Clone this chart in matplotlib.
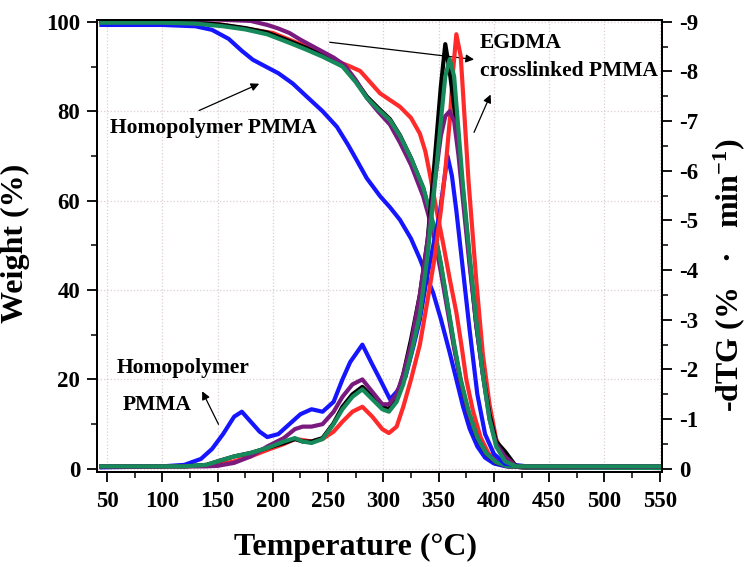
import matplotlib
matplotlib.use("Agg")
import matplotlib.pyplot as plt
from matplotlib.ticker import MultipleLocator

plt.rcParams['font.family'] = ['Liberation Serif', 'DejaVu Serif']
plt.rcParams['font.weight'] = 'bold'
plt.rcParams['mathtext.fontset'] = 'custom'
plt.rcParams['mathtext.rm'] = 'Liberation Serif:bold'
plt.rcParams['mathtext.bf'] = 'Liberation Serif:bold'
plt.rcParams['mathtext.default'] = 'bf'

# TG curves (weight %)
t_blue = [45, 100, 130, 145, 160, 172, 182, 195, 205, 218, 231, 245, 258, 268, 276, 285, 297, 306,
          315, 325, 333, 340, 345, 352, 360, 366, 372, 378, 385, 392, 400, 410, 430, 550]
w_blue = [99.3, 99.3, 99.0, 98.2, 96.2, 93.5, 91.5, 89.8, 88.5, 86.2, 83.2, 80.0, 76.5, 72.5, 69.0, 65.0,
          61.0, 58.5, 55.7, 51.5, 47.0, 42.5, 39.4, 33.5, 26.0, 20.0, 14.0, 9.0, 5.0, 2.5, 1.2, 0.6, 0.3, 0.2]

t_x = [45, 100, 130, 155, 175, 195, 215, 230, 245, 263, 275, 285, 295, 306, 315, 325, 336, 345, 352,
       358, 364, 370, 377, 385, 393, 402, 412, 430, 550]
w_green = [99.8, 99.8, 99.6, 99.0, 98.3, 97.2, 95.3, 93.8, 92.2, 90.0, 86.5, 83.0, 80.5, 78.0, 74.5,
           69.5, 63.0, 55.0, 46.0, 37.0, 28.0, 20.0, 13.0, 7.0, 3.5, 1.5, 0.6, 0.3, 0.2]
w_black = [100.1, 100.1, 99.9, 99.3, 98.6, 97.6, 95.7, 94.2, 92.6, 90.3, 86.8, 83.3, 80.8, 78.2, 74.6,
           69.5, 62.8, 54.5, 45.5, 36.5, 27.5, 19.5, 12.5, 6.8, 3.4, 1.4, 0.6, 0.3, 0.2]

t_purple = [45, 100, 150, 180, 195, 205, 215, 225, 240, 255, 265, 275, 285, 295, 306, 315, 325, 336,
            345, 352, 358, 364, 370, 377, 385, 393, 402, 412, 430, 550]
w_purple = [100.5, 100.6, 100.5, 100.2, 99.3, 98.5, 97.5, 96.0, 94.0, 92.0, 90.3, 87.0, 83.0, 80.0,
            77.0, 73.0, 68.0, 61.0, 53.0, 44.0, 35.5, 27.0, 19.5, 12.5, 7.0, 3.5, 1.5, 0.6, 0.3, 0.2]

t_red = [45, 100, 150, 200, 230, 260, 270, 279, 288, 297, 306, 315, 325, 333, 338, 342, 348, 354,
         360, 366, 371, 375, 381, 388, 395, 403, 412, 430, 550]
w_red = [100.0, 100.0, 99.5, 97.5, 94.5, 91.0, 90.0, 89.0, 86.5, 84.0, 82.5, 81.0, 78.5, 75.0, 71.0,
         66.0, 58.0, 50.5, 42.5, 35.0, 27.0, 20.0, 13.0, 7.0, 3.5, 1.5, 0.6, 0.3, 0.2]

# dTG curves (% / min), plotted as negative values on the right axis
d_t_blue = [45, 100, 120, 135, 145, 155, 165, 172, 180, 188, 195, 205, 215, 225, 235, 245, 255, 263,
            270, 281, 290, 297, 306, 312, 320, 327, 333, 339, 346, 351, 358, 362, 366, 372, 378, 385,
            392, 400, 410, 430, 550]
d_blue = [0.03, 0.05, 0.08, 0.2, 0.4, 0.7, 1.05, 1.15, 0.95, 0.75, 0.64, 0.7, 0.9, 1.1, 1.2, 1.15,
          1.35, 1.8, 2.15, 2.5, 2.1, 1.8, 1.4, 1.55, 1.85, 2.45, 3.0, 3.8, 4.6, 5.15, 6.3, 5.9, 5.2,
          4.0, 2.8, 1.5, 0.7, 0.3, 0.1, 0.05, 0.05]

d_t = [45, 120, 140, 150, 165, 180, 195, 210, 220, 227, 235, 245, 255, 263, 272, 281, 290, 299, 305,
       312, 318, 325, 333, 340, 346, 352, 356, 360, 364, 368, 372, 378, 384, 390, 396, 402, 410, 420, 550]
d_green = [0.05, 0.05, 0.08, 0.15, 0.25, 0.32, 0.42, 0.55, 0.62, 0.55, 0.52, 0.6, 0.9, 1.2, 1.45, 1.6,
           1.4, 1.2, 1.15, 1.35, 1.7, 2.3, 3.1, 4.3, 5.6, 7.0, 7.9, 8.25, 7.9, 6.8, 5.7, 4.3, 3.0, 1.9,
           1.0, 0.45, 0.15, 0.05, 0.05]
d_black = [0.05, 0.05, 0.08, 0.15, 0.25, 0.32, 0.42, 0.52, 0.6, 0.55, 0.55, 0.62, 0.92, 1.25, 1.5,
           1.65, 1.45, 1.25, 1.2, 1.45, 1.9, 2.6, 3.5, 4.6, 6.1, 7.7, 8.55, 8.0, 7.3, 6.5, 5.6, 4.2,
           2.9, 1.9, 1.1, 0.55, 0.35, 0.05, 0.05]
d_purple = [0.05, 0.05, 0.05, 0.06, 0.12, 0.25, 0.45, 0.62, 0.8, 0.85, 0.85, 0.9, 1.15, 1.45, 1.7,
            1.8, 1.55, 1.3, 1.3, 1.5, 1.9, 2.5, 3.5, 4.6, 5.7, 6.7, 7.1, 7.2, 7.0, 6.3, 5.4, 4.1, 2.9,
            1.9, 1.0, 0.5, 0.25, 0.05, 0.05]
d_t_red = [45, 120, 140, 150, 165, 180, 195, 210, 220, 227, 235, 245, 255, 263, 272, 281, 290, 299,
           305, 312, 318, 325, 333, 340, 346, 352, 356, 360, 363, 366, 370, 377, 384, 390, 396, 402,
           410, 420, 550]
d_red = [0.05, 0.05, 0.06, 0.08, 0.15, 0.25, 0.38, 0.5, 0.6, 0.58, 0.55, 0.6, 0.75, 0.95, 1.15, 1.25,
         1.05, 0.8, 0.72, 0.85, 1.25, 1.8, 2.5, 3.4, 4.2, 5.2, 6.0, 7.0, 8.0, 8.75, 8.3, 5.8, 3.8, 2.3,
         1.3, 0.6, 0.2, 0.05, 0.05]

c_blue = '#1515ff'
c_red = '#ff2a2a'
c_black = '#000000'
c_purple = '#7a1a7e'
c_green = '#178a5c'
lw = 3.0

fig = plt.figure(figsize=(7.48, 5.67), dpi=100)
ax = fig.add_axes([0.1297, 0.1676, 0.7553, 0.7971])
ax2 = ax.twinx()

ax.plot(t_blue, w_blue, color=c_blue, lw=lw)
ax.plot(t_red, w_red, color=c_red, lw=lw)
ax.plot(t_x, w_black, color=c_black, lw=lw)
ax.plot(t_purple, w_purple, color=c_purple, lw=lw)
ax.plot(t_x, w_green, color=c_green, lw=lw)

ax2.plot(d_t_blue, [-v for v in d_blue], color=c_blue, lw=lw)
ax2.plot(d_t_red, [-v for v in d_red], color=c_red, lw=lw)
ax2.plot(d_t, [-v for v in d_black], color=c_black, lw=lw)
ax2.plot(d_t, [-v for v in d_purple], color=c_purple, lw=lw)
ax2.plot(d_t, [-v for v in d_green], color=c_green, lw=lw)

ax.set_xlim(41, 552)
ax.set_ylim(-0.7, 100.4)
ax2.set_ylim(0.063, -9.036)

ax.xaxis.set_major_locator(MultipleLocator(50))
ax.xaxis.set_minor_locator(MultipleLocator(25))
ax.yaxis.set_major_locator(MultipleLocator(20))
ax.yaxis.set_minor_locator(MultipleLocator(10))
ax2.yaxis.set_major_locator(MultipleLocator(1))
ax2.yaxis.set_minor_locator(MultipleLocator(0.5))

ax.grid(True, which='major', color='#dccfcf', linestyle=':', linewidth=0.9)
ax.set_axisbelow(True)

for a in (ax, ax2):
    a.tick_params(which='major', length=7, width=1.3, labelsize=16.5, direction='out', pad=5)
    a.tick_params(which='minor', length=4, width=1.1, direction='out')
    for s in a.spines.values():
        s.set_linewidth(1.4)
ax.tick_params(axis='x', pad=7)
ax2.set_yticks(range(0, -10, -1))
ax2.set_yticklabels([str(v) for v in range(0, -10, -1)])

ax.set_xlabel('Temperature (°C)', fontsize=23, fontweight='bold')
ax.xaxis.set_label_coords(0.457, -0.135)
ax.set_ylabel('Weight (%)', fontsize=23, fontweight='bold')
ax.yaxis.set_label_coords(-0.118, 0.505)
ax2.set_ylabel('-dTG (%   \u00b7   min$^{-1}$)', fontsize=23, fontweight='bold')
ax2.yaxis.set_label_coords(1.087, 0.435)

arrow = dict(arrowstyle='-|>', color='black', lw=0.9, mutation_scale=12)
ax.annotate('', xy=(190, 86.4), xytext=(131, 79.9), arrowprops=arrow)
ax.text(53, 76.3, 'Homopolymer PMMA', fontsize=15.5, fontweight='bold', va='center')
ax.annotate('', xy=(384.5, 91.5), xytext=(249, 95.5), arrowprops=arrow)
ax.annotate('', xy=(398, 84.3), xytext=(381, 74.7), arrowprops=arrow)
ax.text(387, 95.3, 'EGDMA', fontsize=15.5, fontweight='bold', va='center')
ax.text(387, 88.9, 'crosslinked PMMA', fontsize=15.5, fontweight='bold', va='center')
ax.annotate('', xy=(135, 17.9), xytext=(152, 9.4), arrowprops=arrow)
ax.text(59, 22.6, 'Homopolymer', fontsize=15.5, fontweight='bold', va='center')
ax.text(64.5, 14.3, 'PMMA', fontsize=15.5, fontweight='bold', va='center')

fig.savefig('out.png', dpi=100)
